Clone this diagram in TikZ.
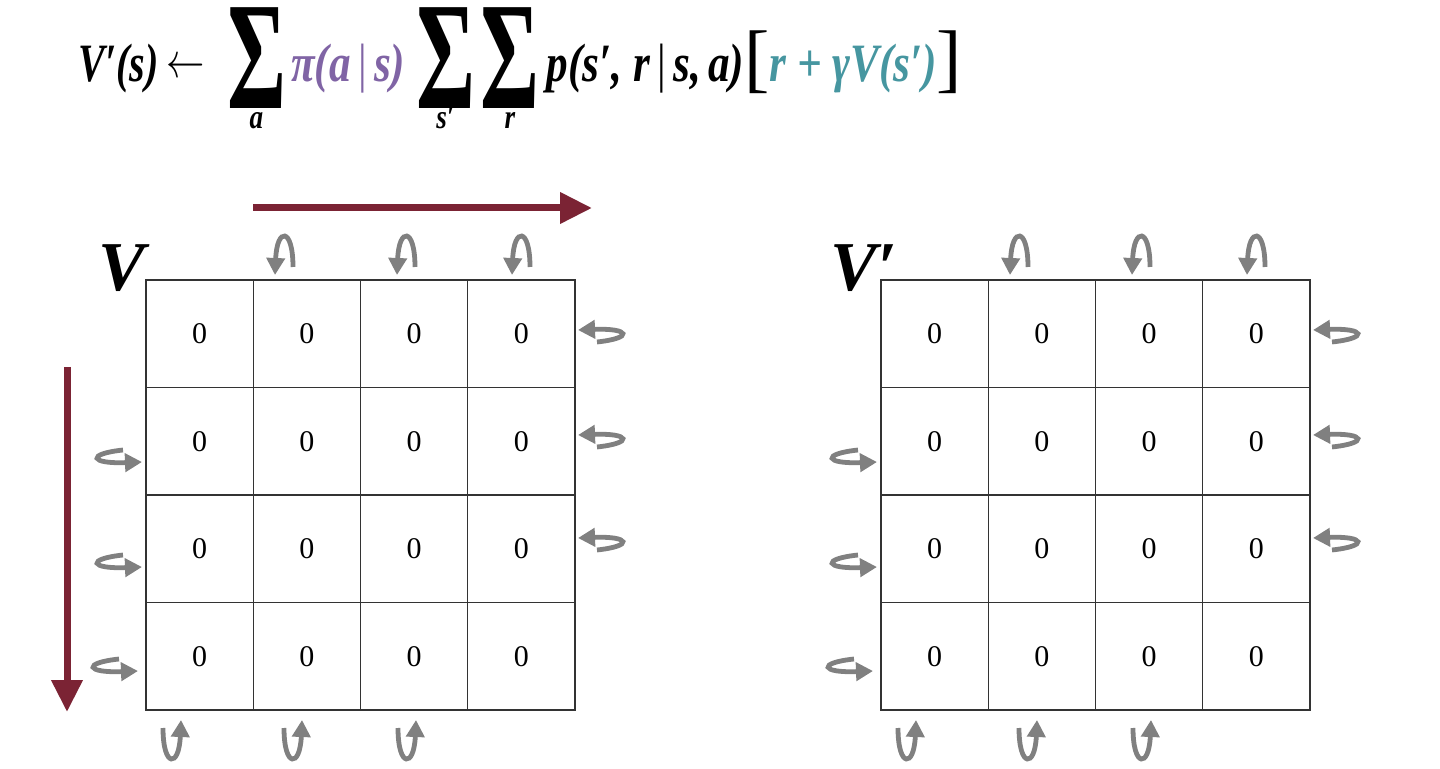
\documentclass[tikz,border=0pt]{standalone}
\usepackage{fontspec}
\setmainfont{Liberation Serif}
\usetikzlibrary{arrows.meta}

\definecolor{flowred}{RGB}{123,35,52}
\definecolor{policypurple}{RGB}{128,100,165}
\definecolor{targetteal}{RGB}{70,150,160}
\definecolor{loopgray}{RGB}{128,128,128}

% narrow text run, big summation sign with its index set below
\newcommand{\nar}[1]{\scalebox{0.8}[1]{#1}}
\newcommand{\bigsum}[1]{\setbox0\hbox{\raisebox{-0.5em}{\scalebox{0.82}[1.4]{\fontsize{55pt}{55pt}\selectfont\bfseries\upshape\symbol{"03A3}}}}%
  \rlap{\hbox to \wd0{\hss\raisebox{-0.86em}{\fontsize{17pt}{17pt}\selectfont\nar{#1}}\hss}}\box0}
\newcommand{\bkt}[1]{\raisebox{-0.02em}{\fontsize{38pt}{38pt}\selectfont\mdseries\upshape #1}}
\newcommand{\upbar}{{\mdseries\upshape\,|\,}}
\newcommand{\getsarrow}{\raisebox{0.08em}{\scalebox{0.77}[1]{$\leftarrow$}}}

% self-loops: vloop points down, hloop points left
\tikzset{
  pics/vloop/.style={code={\draw[loopline] (18,-8) .. controls (18,-48) and (2,-48) .. (0,0);}},
  pics/hloop/.style={code={\draw[loopline] (19,12) .. controls (56,8) and (52,-2) .. (0,0);}}
}

\begin{document}
\begin{tikzpicture}[
    x=0.5pt, y=-0.5pt,
    cell/.style={draw=black!80, line width=0.7pt, minimum width=53.6pt, minimum height=53.75pt,
        inner sep=0pt, font=\fontsize{15}{18}\selectfont},
    loopline/.style={draw=loopgray, line width=2.4pt, -{Triangle[length=8.5pt,width=9pt]}},
    flow/.style={draw=flowred, line width=3.5pt, -{Triangle[length=16pt,width=15pt]}},
    gridname/.style={font=\fontsize{35}{40}\selectfont\bfseries\itshape, inner sep=0pt},
    formula/.style={font=\fontsize{27}{30}\selectfont\bfseries\itshape, inner sep=0pt}
]
\useasboundingbox (0,0) rectangle (1440,769);

% Bellman expectation update
\node[formula, anchor=base west] (bellman) at (78,82)
    {\scalebox{0.74}[1]{V′(s)}\hspace{0.14em}\getsarrow\hspace{0.42em}\bigsum{a}\hspace{0.1em}%
    \textcolor{policypurple}{\nar{π(a\upbar s)}}\hspace{0.2em}\bigsum{s′}\hspace{0.1em}\bigsum{r}\hspace{0.14em}%
    \nar{p(s′,\ r\upbar s,\,a)}\bkt{[}\textcolor{targetteal}{\nar{r + γV(s′)}}\bkt{]}};

% Sweep order
\coordinate (sweep-start) at (253,208);
\coordinate (sweep-end) at (592,208);
\coordinate (rows-start) at (67,367);
\coordinate (rows-end) at (67,712);
\draw[flow] (sweep-start) -- (sweep-end);
\draw[flow] (rows-start) -- (rows-end);

% Grid names
\node[gridname] (old-name) at (122,268) {V};
\node[gridname] (new-name) at (864,268) {V′};

% Both grids with their boundary self-loops
\foreach \g/\gx in {old/146, new/881} {
    \foreach \r in {1,...,4} {
        \foreach \c in {1,...,4} {
            \node[cell] (\g-\r-\c) at ({\gx+53.6+107.25*(\c-1)}, {280+53.75+107.5*(\r-1)}) {0};
        }
    }
    \begin{scope}[shift={(\gx,280)}]
        % top edge
        \foreach \dx in {129,251,366}
            \pic at (\dx,-5) {vloop};
        % bottom edge
        \foreach \dx in {35,156,270}
            \pic[rotate=180] at (\dx,440) {vloop};
        % right edge
        \foreach \dy in {50,155,258}
            \pic at (432,\dy) {hloop};
        % left edge
        \foreach \dx/\dy in {-4/182,-4/287,-8/391}
            \pic[rotate=180] at (\dx,\dy) {hloop};
    \end{scope}
}

\end{tikzpicture}
\end{document}
